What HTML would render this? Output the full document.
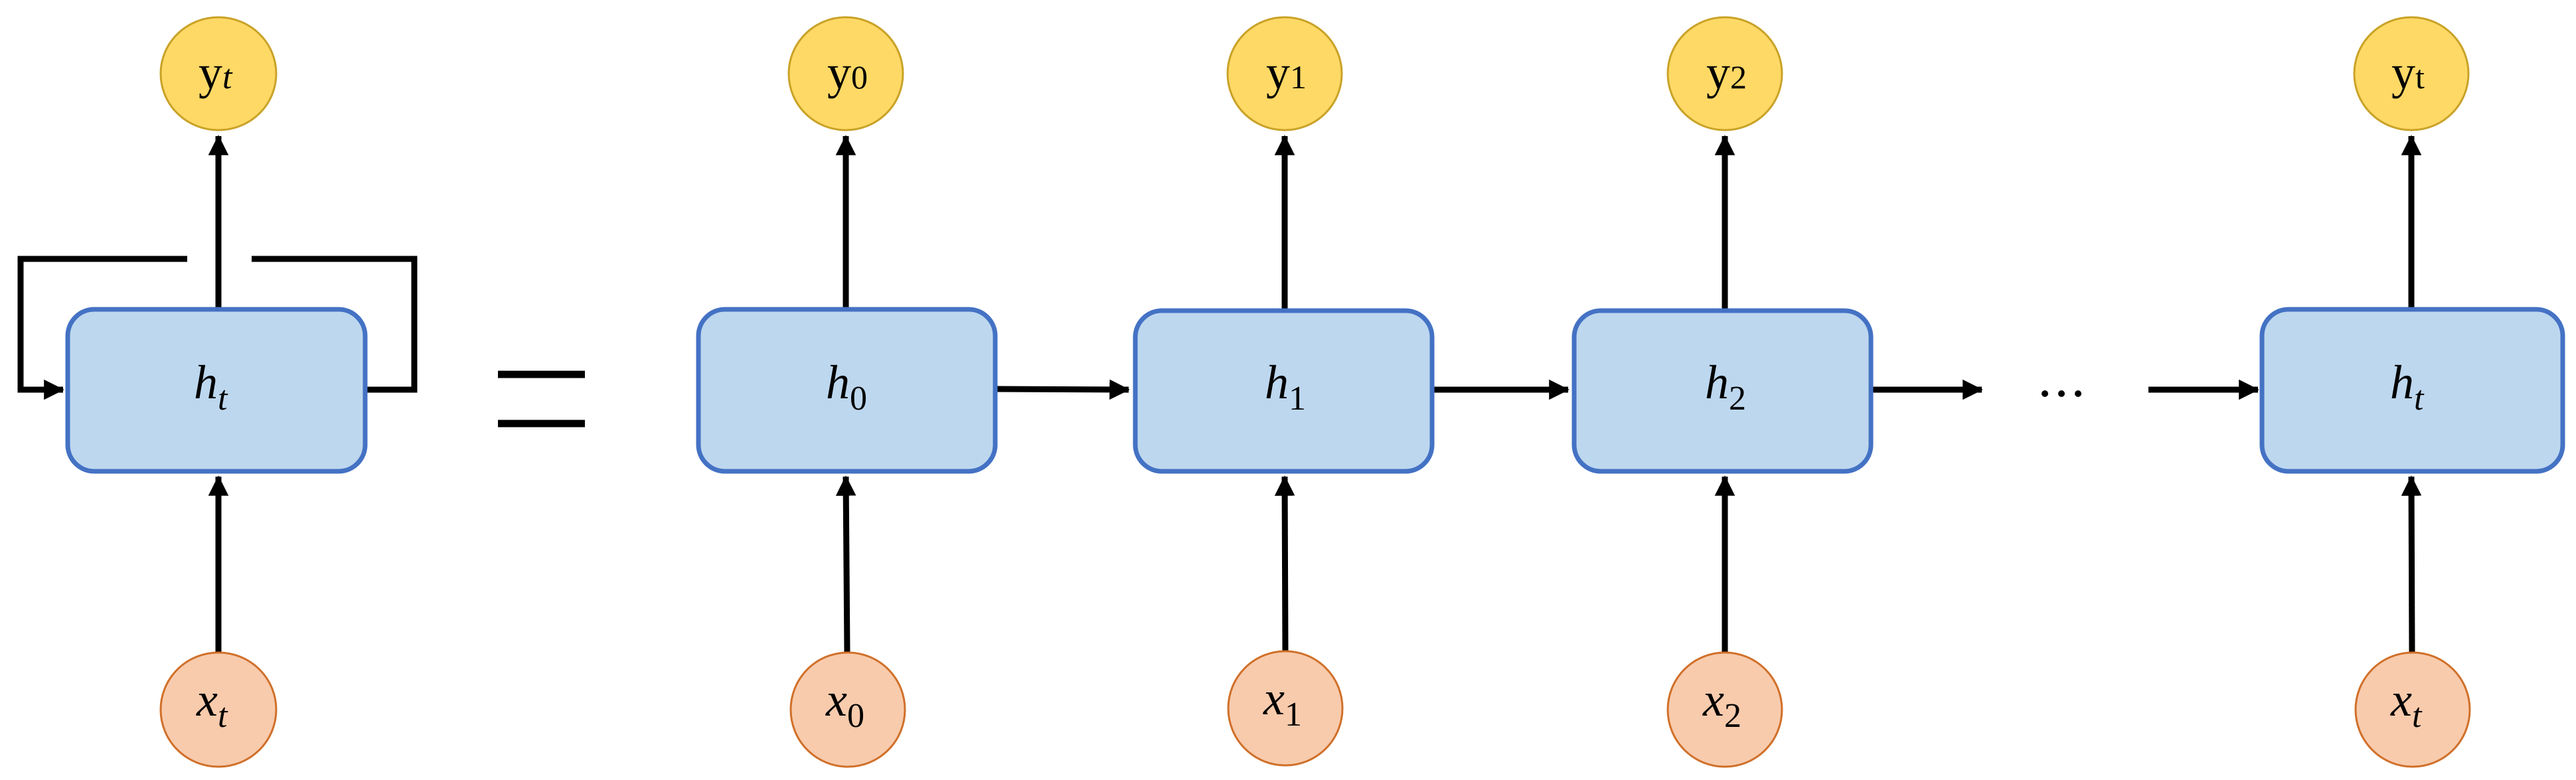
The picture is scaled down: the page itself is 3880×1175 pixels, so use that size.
<!DOCTYPE html>
<html><head><meta charset="utf-8"><style>
html,body{margin:0;padding:0;background:#fff;}
svg{display:block;}
text{font-family:"Liberation Serif",serif;fill:#000;}
.it{font-style:italic;}
</style></head><body>
<svg width="3880" height="1175" viewBox="0 0 3880 1175" xmlns="http://www.w3.org/2000/svg">
<defs>
<marker id="ah" markerWidth="4" markerHeight="4" refX="3.2" refY="2" orient="auto" markerUnits="strokeWidth">
<path d="M0,0.3 L3.4,2 L0,3.7 Z" fill="#000"/>
</marker>
</defs>
<g stroke="#000" stroke-width="9" fill="none">
<!-- left feedback -->
<polyline points="282,390 31,390 31,587 95,587" marker-end="url(#ah)"/>
<polyline points="379,390 624,390 624,587 552,587"/>
<line x1="329" y1="466" x2="329" y2="205" marker-end="url(#ah)"/>
<line x1="329" y1="983" x2="329" y2="718" marker-end="url(#ah)"/>
<!-- equals -->
<line x1="750" y1="564" x2="881" y2="564" stroke-width="11"/>
<line x1="750" y1="638" x2="881" y2="638" stroke-width="11"/>
<!-- unrolled verticals -->
<line x1="1274" y1="466" x2="1274" y2="205" marker-end="url(#ah)"/>
<line x1="1276" y1="983" x2="1274" y2="718" marker-end="url(#ah)"/>
<line x1="1935" y1="466" x2="1935" y2="205" marker-end="url(#ah)"/>
<line x1="1936" y1="983" x2="1935" y2="718" marker-end="url(#ah)"/>
<line x1="2598" y1="466" x2="2598" y2="205" marker-end="url(#ah)"/>
<line x1="2598" y1="983" x2="2598" y2="718" marker-end="url(#ah)"/>
<line x1="3632" y1="466" x2="3632" y2="205" marker-end="url(#ah)"/>
<line x1="3633" y1="983" x2="3632" y2="718" marker-end="url(#ah)"/>
<!-- horizontals -->
<line x1="1500" y1="586" x2="1700" y2="587" marker-end="url(#ah)"/>
<line x1="2158" y1="587" x2="2362" y2="587" marker-end="url(#ah)"/>
<line x1="2820" y1="587" x2="2985" y2="587" marker-end="url(#ah)"/>
<line x1="3236" y1="587" x2="3401" y2="587" marker-end="url(#ah)"/>
</g>
<!-- dots -->
<g fill="#000"><circle cx="3080" cy="593" r="5"/><circle cx="3105" cy="593" r="5"/><circle cx="3130" cy="593" r="5"/></g>
<!-- boxes -->
<g fill="#BDD7EE" stroke="#4472C4" stroke-width="7">
<rect x="102" y="466" width="448" height="244" rx="40"/>
<rect x="1052" y="466" width="447" height="244" rx="40"/>
<rect x="1710" y="468" width="447" height="242" rx="40"/>
<rect x="2371" y="468" width="447" height="242" rx="40"/>
<rect x="3407" y="466" width="453" height="244" rx="40"/>
</g>
<!-- y circles -->
<g fill="#FFD966" stroke="#C9A227" stroke-width="3">
<ellipse cx="329" cy="111" rx="87" ry="85"/>
<ellipse cx="1274" cy="111" rx="86" ry="85"/>
<ellipse cx="1935" cy="111" rx="86" ry="85"/>
<ellipse cx="2598" cy="111" rx="86" ry="85"/>
<ellipse cx="3632" cy="111" rx="86" ry="85"/>
</g>
<!-- x circles -->
<g fill="#F8CBAD" stroke="#D0702A" stroke-width="3">
<ellipse cx="329" cy="1069" rx="87" ry="86"/>
<ellipse cx="1277" cy="1069" rx="86" ry="86"/>
<ellipse cx="1936" cy="1067" rx="86" ry="86"/>
<ellipse cx="2598" cy="1069" rx="86" ry="86"/>
<ellipse cx="3634" cy="1069" rx="86" ry="86"/>
</g>
<!-- labels -->
<g font-size="72">
<text x="299" y="133">y<tspan class="it" font-size="52" dy="0">t</tspan></text>
<text x="1246" y="133">y<tspan font-size="50">0</tspan></text>
<text x="1907" y="133">y<tspan font-size="50">1</tspan></text>
<text x="2570" y="133">y<tspan font-size="50">2</tspan></text>
<text x="3602" y="133">y<tspan font-size="50">t</tspan></text>

<text class="it" x="292" y="600">h<tspan font-size="52" dy="17">t</tspan></text>
<text class="it" x="1244" y="600">h<tspan font-size="52" dy="17" font-style="normal">0</tspan></text>
<text class="it" x="1905" y="600">h<tspan font-size="52" dy="17" font-style="normal">1</tspan></text>
<text class="it" x="2568" y="600">h<tspan font-size="52" dy="17" font-style="normal">2</tspan></text>
<text class="it" x="3600" y="600">h<tspan font-size="52" dy="17">t</tspan></text>

<text class="it" x="296" y="1078">x<tspan font-size="52" dy="17">t</tspan></text>
<text class="it" x="1244" y="1078">x<tspan font-size="52" dy="17" font-style="normal">0</tspan></text>
<text class="it" x="1903" y="1076">x<tspan font-size="52" dy="17" font-style="normal">1</tspan></text>
<text class="it" x="2565" y="1078">x<tspan font-size="52" dy="17" font-style="normal">2</tspan></text>
<text class="it" x="3601" y="1078">x<tspan font-size="52" dy="17">t</tspan></text>
</g>
</svg>
</body></html>
